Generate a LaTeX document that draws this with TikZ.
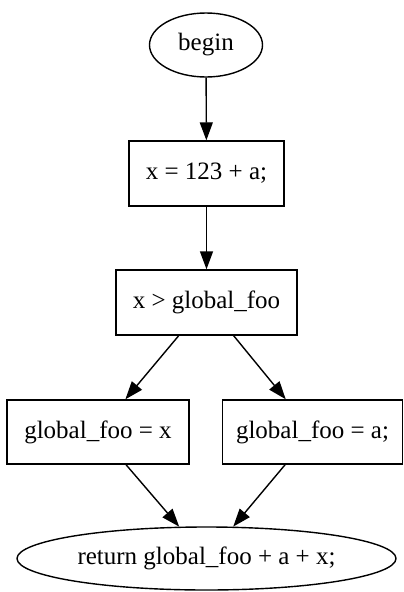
\documentclass[tikz,border=0pt]{standalone}
\usepackage{fontspec}
\setmainfont{Liberation Serif}
\usetikzlibrary{shapes.geometric,arrows.meta}
\begin{document}
\begin{tikzpicture}[x=1pt,y=-1pt,
  every node/.style={font=\fontsize{25}{28}\selectfont, inner sep=0pt, line width=1.4pt},
  oval/.style={draw, ellipse},
  box/.style={draw, rectangle},
  edge/.style={line width=1.4pt, -{Triangle[length=18pt,width=13pt]}}]
\useasboundingbox (0,0) rectangle (404,592);
\node[oval, minimum width=113pt, minimum height=64pt] (begin) at (206,45) {begin};
\node[box, minimum width=155pt, minimum height=65pt] (b1) at (206.5,173.5) {x = 123 + a;};
\node[box, minimum width=181pt, minimum height=65pt] (b2) at (206.5,302.5) {x {\char`>} global\_foo};
\node[box, minimum width=182pt, minimum height=64pt] (l) at (98,432) {global\_foo = x};
\node[box, minimum width=180pt, minimum height=64pt] (r) at (312.5,432) {global\_foo = a;};
\node[oval, minimum width=379pt, minimum height=63pt] (end) at (206.5,558.5) {return global\_foo + a + x;};
\draw[edge] (begin) -- (b1);
\draw[edge] (b1) -- (b2);
\draw[edge] (b2) -- (l);
\draw[edge] (b2) -- (r);
\draw[edge] (l) -- (end);
\draw[edge] (r) -- (end);
\end{tikzpicture}
\end{document}
